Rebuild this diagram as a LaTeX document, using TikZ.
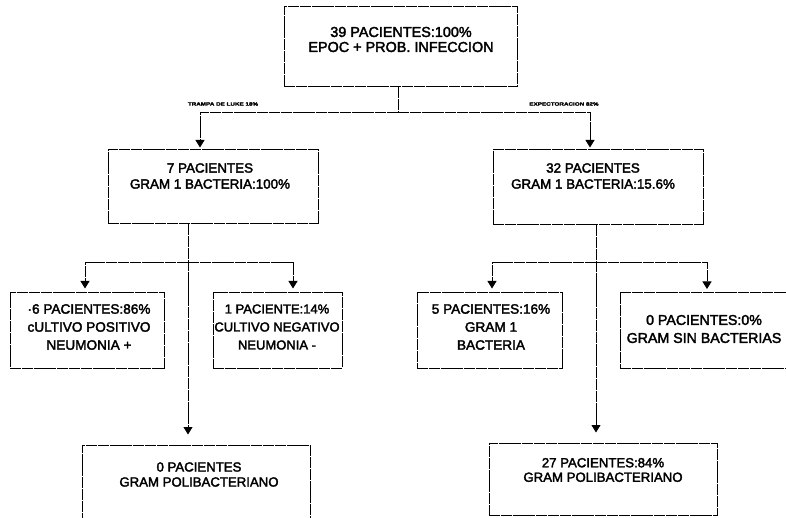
\documentclass[tikz,border=0pt]{standalone}
\usepackage{fontspec}
\usetikzlibrary{arrows.meta}
\newfontfamily\scanfont{Liberation Sans}[FakeBold=2.4]
\tikzset{
  box/.style={draw, line width=1pt, dash pattern=on 11pt off 0.8pt, inner sep=0pt},
  conn/.style={line width=1pt, dash pattern=on 11pt off 0.8pt},
  arr/.style={conn, -{Triangle[width=9pt,length=7.5pt]}},
  txt/.style={align=center, inner sep=0pt, font=\scanfont\fontsize{13.4}{16}\selectfont},
  txtthree/.style={txt, font=\scanfont\fontsize{13.6}{18}\selectfont},
  lbl/.style={inner sep=0pt, font=\scanfont\bfseries\fontsize{6}{6}\selectfont}
}
\begin{document}
\begin{tikzpicture}[x=1pt,y=-1pt]
\useasboundingbox[fill=white] (0,0) rectangle (786,518);

% boxes
\node[box, minimum width=233pt, minimum height=80pt] (T) at (400.5,47) {};
\node[box, minimum width=210pt, minimum height=74pt] (L1) at (213,187) {};
\node[box, minimum width=210pt, minimum height=75pt] (R1) at (598,187.5) {};
\node[box, minimum width=154pt, minimum height=76pt] (M1) at (87,330) {};
\node[box, minimum width=129pt, minimum height=76pt] (M2) at (277.5,330) {};
\node[box, minimum width=145pt, minimum height=76pt] (M3) at (489.5,330) {};
\node[box, minimum width=180pt, minimum height=76pt] (M4) at (710,330.5) {};
\node[box, minimum width=228pt, minimum height=90pt] (BL) at (196,490) {};
\node[box, minimum width=228pt, minimum height=72pt] (BR) at (603,479) {};

% texts
\node[txt, font=\scanfont\fontsize{14.4}{15}\selectfont] (Tt) at (401,39.5) {39 PACIENTES:100\%\\EPOC + PROB. INFECCION};
\node[txt] (L1t) at (210,176) {7 PACIENTES\\GRAM 1 BACTERIA:100\%};
\node[txt] (R1t) at (593,176) {32 PACIENTES\\GRAM 1 BACTERIA:15.6\%};
\node[txtthree] (M1t) at (89,327) {·6 PACIENTES:86\%\\cULTIVO POSITIVO\\NEUMONIA +};
\node[txtthree, font=\scanfont\fontsize{13}{18}\selectfont] (M2t) at (277,327) {1 PACIENTE:14\%\\CULTIVO NEGATIVO\\NEUMONIA -};
\node[txtthree] (M3t) at (491,327) {5 PACIENTES:16\%\\GRAM 1\\BACTERIA};
\node[txt, font=\scanfont\fontsize{14.2}{18}\selectfont] (M4t) at (704,329) {0 PACIENTES:0\%\\GRAM SIN BACTERIAS};
\node[txt, font=\scanfont\fontsize{13.2}{15}\selectfont] (BLt) at (199,474.5) {0 PACIENTES\\GRAM POLIBACTERIANO};
\node[txt, font=\scanfont\fontsize{13.2}{14.5}\selectfont] (BRt) at (603,470) {27 PACIENTES:84\%\\GRAM POLIBACTERIANO};

% branch labels
\node[lbl] (la) at (223,104) {\scalebox{1.05}[0.8]{TRAMPA DE LUKE 18\%}};
\node[lbl] (lb) at (564,104) {\scalebox{1.05}[0.8]{EXPECTORACION 82\%}};

% top split
\coordinate (j1) at (398,113);
\coordinate (aL) at (200,113);
\coordinate (aR) at (590,113);
\draw[conn] (T.south -| j1) -- (j1);
\draw[arr, shorten >=2pt] (j1) -- (aL) -- (aL |- L1.north);
\draw[arr, shorten >=2pt] (j1) -- (aR) -- (aR |- R1.north);

% left subtree
\coordinate (jL) at (188,263);
\coordinate (bM1) at (85,263);
\coordinate (bM2) at (293,263);
\draw[arr, shorten >=10pt] (L1.south -| jL) -- (jL |- BL.north);
\draw[arr, shorten >=3pt] (jL) -- (bM1) -- (bM1 |- M1.north);
\draw[arr, shorten >=3pt] (jL) -- (bM2) -- (bM2 |- M2.north);

% right subtree
\coordinate (jR) at (596,263);
\coordinate (bM3) at (492,263);
\coordinate (bM4) at (707,263);
\draw[arr, shorten >=10pt] (R1.south -| jR) -- (jR |- BR.north);
\draw[arr, shorten >=3pt] (jR) -- (bM3) -- (bM3 |- M3.north);
\draw[arr, shorten >=3pt] (jR) -- (bM4) -- (bM4 |- M4.north);
\end{tikzpicture}
\end{document}
